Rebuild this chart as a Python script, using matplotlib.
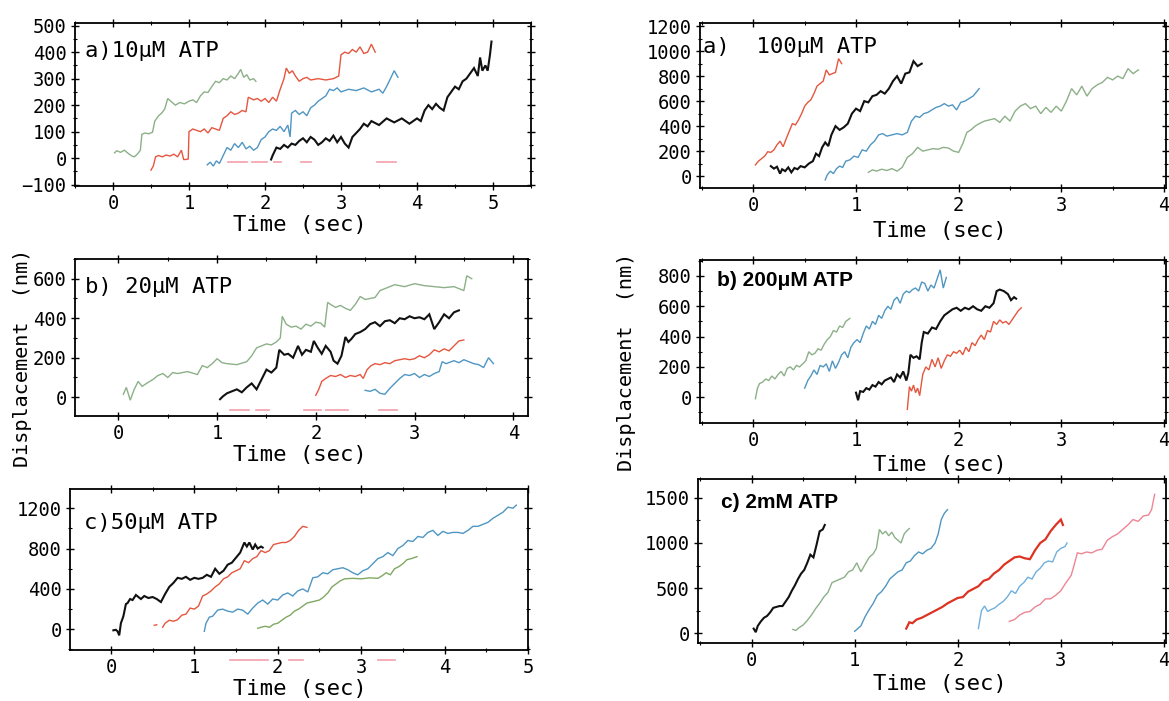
import numpy as np
import matplotlib
matplotlib.use("Agg")
import matplotlib.pyplot as plt
from matplotlib.ticker import AutoMinorLocator

# ---- data: (time s, displacement nm) ----
# a) 10 uM ATP
g10 = [(0.02,20),(0.05,28),(0.1,22),(0.15,30),(0.2,18),(0.25,8),(0.28,5),(0.32,15),(0.36,30),(0.38,90),
       (0.42,95),(0.47,92),(0.52,98),(0.55,140),(0.6,160),(0.64,170),(0.68,185),(0.72,225),(0.76,215),(0.82,200),
       (0.88,210),(0.94,205),(1.0,215),(1.05,220),(1.1,210),(1.15,235),(1.2,250),(1.25,248),(1.3,270),(1.35,290),
       (1.4,285),(1.45,300),(1.5,295),(1.55,310),(1.6,300),(1.65,320),(1.68,335),(1.72,305),(1.76,315),(1.8,295),
       (1.85,300),(1.88,290)]
r10 = [(0.5,-45),(0.53,-30),(0.56,5),(0.6,10),(0.65,5),(0.7,12),(0.75,8),(0.8,15),(0.85,5),(0.9,30),(0.93,-5),
       (0.96,-5),(0.99,-3),(1.0,100),(1.05,110),(1.1,105),(1.15,100),(1.2,110),(1.25,95),(1.3,115),(1.35,110),
       (1.4,105),(1.45,150),(1.5,160),(1.55,175),(1.6,165),(1.65,170),(1.7,180),(1.75,175),(1.78,230),(1.85,220),
       (1.9,225),(1.95,215),(2.0,225),(2.05,210),(2.1,230),(2.15,215),(2.2,260),(2.25,300),(2.28,340),(2.32,320),
       (2.36,330),(2.4,310),(2.45,290),(2.5,300),(2.55,305),(2.6,295),(2.7,300),(2.8,295),(2.9,300),(2.97,310),
       (3.0,390),(3.05,400),(3.1,395),(3.15,410),(3.2,400),(3.25,420),(3.3,395),(3.35,400),(3.4,430),(3.45,400)]
b10 = [(1.24,-25),(1.28,-15),(1.32,-30),(1.36,-10),(1.4,-20),(1.45,10),(1.5,40),(1.55,30),(1.6,55),(1.65,40),
       (1.7,60),(1.75,35),(1.8,45),(1.85,30),(1.9,40),(1.95,70),(2.0,80),(2.05,100),(2.1,110),(2.15,105),(2.2,120),
       (2.25,100),(2.3,125),(2.33,80),(2.35,170),(2.4,180),(2.45,165),(2.5,175),(2.55,160),(2.6,190),(2.65,200),
       (2.7,215),(2.75,225),(2.8,235),(2.85,260),(2.9,255),(2.95,265),(3.0,250),(3.1,260),(3.2,255),(3.3,265),
       (3.4,250),(3.5,260),(3.55,245),(3.6,270),(3.65,300),(3.7,330),(3.75,305)]
k10 = [(2.08,-5),(2.1,10),(2.15,40),(2.2,35),(2.25,50),(2.3,40),(2.35,55),(2.4,50),(2.45,65),(2.5,75),(2.55,60),
       (2.6,80),(2.65,70),(2.7,50),(2.75,60),(2.8,75),(2.85,65),(2.9,85),(2.95,60),(3.0,80),(3.05,55),(3.1,40),
       (3.15,80),(3.2,95),(3.25,110),(3.3,130),(3.35,120),(3.4,140),(3.5,125),(3.6,150),(3.7,135),(3.8,150),
       (3.85,140),(3.9,130),(4.0,150),(4.05,140),(4.1,180),(4.15,200),(4.2,185),(4.25,205),(4.3,190),(4.35,180),
       (4.4,230),(4.45,250),(4.5,270),(4.55,260),(4.6,290),(4.65,300),(4.7,320),(4.75,340),(4.8,310),(4.83,380),
       (4.86,330),(4.9,350),(4.93,330),(4.96,390),(4.98,440)]
pink10 = [(1.51,1.76),(1.83,2.03),(2.12,2.21),(2.48,2.6),(3.48,3.73)]

# b) 20 uM ATP
g20 = [(0.05,15),(0.08,50),(0.12,-15),(0.16,40),(0.2,80),(0.24,55),(0.3,75),(0.35,90),(0.4,110),(0.45,120),
       (0.5,100),(0.55,125),(0.6,120),(0.7,130),(0.8,115),(0.85,160),(0.9,150),(0.95,170),(1.0,195),(1.05,175),
       (1.1,170),(1.2,165),(1.3,180),(1.35,210),(1.4,250),(1.45,260),(1.5,270),(1.55,265),(1.6,280),(1.64,300),
       (1.66,410),(1.7,370),(1.75,355),(1.8,360),(1.85,345),(1.9,370),(1.95,360),(2.0,380),(2.05,375),(2.09,355),
       (2.12,480),(2.15,470),(2.2,455),(2.25,465),(2.3,450),(2.35,440),(2.4,470),(2.45,510),(2.5,495),(2.55,500),
       (2.6,505),(2.65,540),(2.7,550),(2.8,570),(2.9,560),(3.0,575),(3.1,565),(3.2,560),(3.3,555),(3.4,560),
       (3.45,550),(3.5,540),(3.53,615),(3.58,600)]
k20 = [(1.03,-10),(1.06,5),(1.1,20),(1.15,30),(1.2,40),(1.25,25),(1.3,50),(1.35,70),(1.4,40),(1.45,90),(1.5,140),
       (1.55,125),(1.6,150),(1.63,240),(1.68,215),(1.72,220),(1.77,200),(1.82,260),(1.86,215),(1.9,240),(1.95,230),
       (1.98,285),(2.02,250),(2.06,220),(2.1,260),(2.15,230),(2.18,185),(2.22,170),(2.26,210),(2.3,305),(2.33,280),
       (2.36,295),(2.4,320),(2.45,330),(2.5,345),(2.55,370),(2.6,380),(2.65,360),(2.7,385),(2.75,390),(2.8,375),
       (2.85,400),(2.9,395),(2.95,410),(3.0,400),(3.05,405),(3.1,395),(3.15,420),(3.2,345),(3.25,380),(3.3,420),
       (3.35,400),(3.4,430),(3.45,440)]
r20 = [(2.0,10),(2.03,40),(2.06,80),(2.1,95),(2.15,110),(2.2,105),(2.25,115),(2.3,100),(2.35,110),(2.4,105),
       (2.45,115),(2.48,95),(2.52,140),(2.56,160),(2.6,170),(2.65,165),(2.7,175),(2.75,170),(2.8,185),(2.85,190),
       (2.9,195),(2.95,190),(3.0,195),(3.05,210),(3.1,200),(3.15,215),(3.2,240),(3.25,230),(3.3,245),(3.35,235),
       (3.4,260),(3.45,285),(3.5,290)]
b20 = [(2.5,35),(2.55,30),(2.6,40),(2.65,20),(2.7,15),(2.75,45),(2.8,70),(2.85,95),(2.9,115),(2.95,110),(3.0,120),
       (3.05,100),(3.1,115),(3.15,105),(3.2,120),(3.25,130),(3.28,180),(3.32,170),(3.4,185),(3.45,175),(3.5,190),
       (3.55,180),(3.6,170),(3.65,165),(3.7,150),(3.75,200),(3.8,170)]
pink20 = [(1.13,1.32),(1.39,1.53),(1.88,2.05),(2.1,2.33),(2.64,2.82)]

# c) 50 uM ATP
k50 = [(0.03,-10),(0.06,-5),(0.08,-20),(0.1,-60),(0.12,60),(0.15,130),(0.18,250),(0.2,260),(0.23,300),(0.26,290),
       (0.3,340),(0.33,320),(0.36,300),(0.4,330),(0.45,310),(0.5,320),(0.55,300),(0.6,270),(0.65,350),(0.7,420),
       (0.75,460),(0.8,510),(0.85,500),(0.9,520),(0.95,490),(1.0,510),(1.05,500),(1.1,510),(1.15,540),(1.2,520),
       (1.25,600),(1.3,550),(1.35,580),(1.4,640),(1.45,660),(1.5,710),(1.55,760),(1.6,860),(1.63,820),(1.66,860),
       (1.7,790),(1.73,840),(1.76,800),(1.8,820),(1.82,810)]
r50_dot = [(0.52,40),(0.55,45)]
r50 = [(0.62,20),(0.65,60),(0.7,90),(0.75,80),(0.8,95),(0.85,140),(0.9,150),(0.95,210),(1.0,200),(1.05,230),
       (1.1,330),(1.15,350),(1.2,380),(1.25,420),(1.3,450),(1.35,500),(1.4,520),(1.45,560),(1.5,580),(1.55,600),
       (1.6,680),(1.65,660),(1.7,700),(1.75,720),(1.8,780),(1.85,760),(1.9,780),(1.95,840),(2.0,850),(2.05,860),
       (2.1,860),(2.15,880),(2.2,920),(2.25,980),(2.3,1020),(2.35,1010)]
b50 = [(1.12,-20),(1.14,60),(1.18,120),(1.22,130),(1.28,190),(1.34,200),(1.4,180),(1.46,170),(1.52,200),(1.58,190),
       (1.64,150),(1.7,210),(1.76,260),(1.82,290),(1.88,250),(1.94,300),(2.0,290),(2.06,340),(2.12,360),(2.18,330),
       (2.24,380),(2.3,400),(2.36,370),(2.42,510),(2.48,520),(2.54,560),(2.6,550),(2.66,590),(2.72,600),(2.78,610),
       (2.84,590),(2.9,560),(2.96,540),(3.02,580),(3.08,600),(3.14,650),(3.2,700),(3.26,720),(3.32,760),(3.38,730),
       (3.44,800),(3.5,830),(3.56,880),(3.62,870),(3.68,920),(3.74,910),(3.8,960),(3.86,980),(3.92,930),(3.98,970),
       (4.04,950),(4.1,960),(4.16,960),(4.22,950),(4.28,980),(4.34,1020),(4.4,1020),(4.46,1040),(4.52,1060),
       (4.58,1100),(4.64,1130),(4.7,1160),(4.76,1210),(4.82,1200),(4.86,1230)]
g50 = [(1.76,10),(1.8,20),(1.85,30),(1.9,20),(1.95,50),(2.0,60),(2.05,90),(2.1,120),(2.15,140),(2.2,180),
       (2.25,200),(2.3,230),(2.35,260),(2.4,270),(2.45,280),(2.5,290),(2.55,320),(2.6,360),(2.65,420),(2.7,450),
       (2.75,480),(2.8,500),(2.9,505),(3.0,500),(3.1,510),(3.2,505),(3.25,530),(3.3,560),(3.35,540),(3.4,600),
       (3.45,620),(3.5,650),(3.55,690),(3.6,700),(3.67,720)]
pink50 = [(1.43,1.88),(2.13,2.3),(3.2,3.4)]

# a) 100 uM ATP
r100 = [(0.02,90),(0.05,120),(0.08,140),(0.11,160),(0.14,195),(0.17,190),(0.2,210),(0.23,250),(0.26,280),(0.29,235),
        (0.32,300),(0.35,360),(0.38,420),(0.41,410),(0.44,450),(0.47,500),(0.5,560),(0.53,590),(0.56,610),(0.59,660),
        (0.62,720),(0.65,740),(0.68,760),(0.71,850),(0.74,810),(0.77,820),(0.8,830),(0.83,940),(0.86,900)]
k100 = [(0.17,80),(0.2,60),(0.23,75),(0.26,20),(0.28,55),(0.31,40),(0.34,70),(0.37,30),(0.4,65),(0.43,55),
        (0.46,80),(0.5,70),(0.54,100),(0.58,120),(0.61,180),(0.64,160),(0.67,230),(0.7,270),(0.73,240),(0.76,330),
        (0.8,400),(0.84,370),(0.88,390),(0.92,420),(0.96,500),(1.0,540),(1.04,520),(1.08,600),(1.12,590),(1.16,640),
        (1.2,650),(1.24,680),(1.28,660),(1.32,700),(1.36,760),(1.4,800),(1.44,740),(1.48,820),(1.52,830),(1.56,920),
        (1.6,880),(1.64,900)]
b100 = [(0.7,-30),(0.72,10),(0.75,40),(0.78,20),(0.81,60),(0.84,80),(0.87,70),(0.9,120),(0.94,130),(0.98,160),
        (1.02,150),(1.06,210),(1.1,200),(1.14,250),(1.18,280),(1.22,330),(1.26,340),(1.3,320),(1.35,330),(1.4,340),
        (1.45,330),(1.5,350),(1.54,440),(1.58,480),(1.62,470),(1.66,500),(1.7,510),(1.74,530),(1.78,550),(1.82,560),
        (1.86,580),(1.9,560),(1.94,570),(1.98,530),(2.02,590),(2.06,600),(2.1,620),(2.14,640),(2.18,680),(2.2,700)]
g100 = [(1.12,30),(1.16,50),(1.2,40),(1.25,55),(1.3,45),(1.35,60),(1.4,40),(1.45,70),(1.5,150),(1.55,180),
        (1.6,230),(1.65,200),(1.7,210),(1.75,220),(1.8,215),(1.85,230),(1.9,225),(1.95,200),(2.0,190),(2.04,260),
        (2.08,350),(2.12,370),(2.16,400),(2.2,420),(2.25,440),(2.3,450),(2.35,460),(2.4,430),(2.45,480),(2.5,440),
        (2.55,520),(2.6,560),(2.65,580),(2.7,540),(2.75,560),(2.8,500),(2.85,550),(2.9,510),(2.95,560),(3.0,520),
        (3.05,600),(3.1,700),(3.15,650),(3.2,720),(3.25,640),(3.3,700),(3.35,730),(3.4,750),(3.45,790),(3.5,770),
        (3.55,800),(3.6,780),(3.65,860),(3.7,820),(3.75,850)]

# b) 200 uM ATP
g200 = [(0.02,-10),(0.04,60),(0.06,90),(0.09,100),(0.12,120),(0.15,110),(0.18,140),(0.21,120),(0.24,150),(0.27,170),
        (0.3,140),(0.33,190),(0.36,200),(0.39,180),(0.42,210),(0.45,200),(0.48,220),(0.51,240),(0.54,300),(0.57,280),
        (0.6,290),(0.63,320),(0.66,310),(0.69,350),(0.72,380),(0.75,400),(0.78,440),(0.81,430),(0.84,470),(0.87,460),
        (0.9,500),(0.94,520)]
b200 = [(0.5,60),(0.53,110),(0.56,140),(0.59,180),(0.62,150),(0.65,210),(0.68,200),(0.71,220),(0.74,170),(0.77,240),
        (0.8,190),(0.83,230),(0.86,280),(0.89,300),(0.92,260),(0.95,330),(0.98,360),(1.01,380),(1.04,360),(1.07,420),
        (1.1,470),(1.13,450),(1.16,500),(1.19,480),(1.22,540),(1.25,520),(1.28,570),(1.31,600),(1.34,580),(1.37,640),
        (1.4,660),(1.43,620),(1.46,680),(1.49,700),(1.52,690),(1.55,710),(1.58,720),(1.61,700),(1.64,760),(1.67,750),
        (1.7,700),(1.73,740),(1.76,720),(1.79,780),(1.82,840),(1.85,720),(1.88,790)]
k200 = [(1.0,30),(1.02,-20),(1.04,40),(1.07,35),(1.1,60),(1.13,50),(1.16,80),(1.19,70),(1.22,100),(1.25,85),
        (1.28,110),(1.31,120),(1.34,130),(1.37,100),(1.4,150),(1.43,130),(1.46,170),(1.49,110),(1.51,160),(1.53,280),
        (1.56,260),(1.59,270),(1.62,250),(1.64,360),(1.66,430),(1.7,420),(1.74,460),(1.78,450),(1.82,500),(1.86,540),
        (1.9,560),(1.94,580),(1.98,590),(2.02,570),(2.06,590),(2.1,580),(2.14,600),(2.18,580),(2.22,570),(2.26,600),
        (2.3,590),(2.34,620),(2.37,700),(2.4,710),(2.44,700),(2.48,680),(2.51,640),(2.54,660),(2.56,650)]
r200 = [(1.5,-80),(1.52,70),(1.54,40),(1.56,80),(1.58,30),(1.6,60),(1.62,10),(1.65,150),(1.68,200),(1.71,180),
        (1.74,250),(1.77,200),(1.8,260),(1.83,190),(1.86,240),(1.89,280),(1.92,270),(1.95,300),(1.98,290),(2.01,310),
        (2.04,280),(2.07,330),(2.1,300),(2.13,360),(2.16,340),(2.19,380),(2.22,410),(2.25,380),(2.28,440),(2.31,430),
        (2.34,500),(2.37,480),(2.4,510),(2.43,490),(2.46,500),(2.49,480),(2.52,510),(2.55,540),(2.58,570),(2.61,590)]

# c) 2 mM ATP
k2m = [(0.02,50),(0.04,10),(0.06,80),(0.09,130),(0.12,170),(0.15,190),(0.18,230),(0.21,280),(0.24,290),(0.27,300),
       (0.3,300),(0.33,350),(0.36,400),(0.39,470),(0.42,530),(0.45,600),(0.48,660),(0.51,700),(0.54,780),(0.57,870),
       (0.6,840),(0.63,980),(0.66,1130),(0.69,1150),(0.71,1200)]
g2m = [(0.4,40),(0.43,30),(0.46,60),(0.5,90),(0.54,140),(0.58,200),(0.62,270),(0.66,330),(0.7,400),(0.74,450),
       (0.78,560),(0.82,580),(0.86,600),(0.9,620),(0.94,680),(0.98,700),(1.02,780),(1.06,680),(1.1,760),(1.14,840),
       (1.18,880),(1.21,940),(1.24,1150),(1.27,1100),(1.3,1130),(1.33,1080),(1.36,1120),(1.39,1060),(1.42,1030),
       (1.45,1000),(1.48,1100),(1.51,1140),(1.53,1160)]
b2m = [(1.0,20),(1.03,50),(1.06,80),(1.1,180),(1.14,260),(1.18,330),(1.22,420),(1.26,460),(1.3,520),(1.34,600),
       (1.38,640),(1.42,680),(1.46,700),(1.5,780),(1.54,800),(1.58,860),(1.62,900),(1.66,880),(1.7,920),(1.74,940),
       (1.78,1000),(1.81,1100),(1.84,1260),(1.87,1330),(1.9,1370)]
r2m = [(1.5,50),(1.53,120),(1.56,110),(1.6,150),(1.65,170),(1.7,200),(1.75,230),(1.8,260),(1.85,290),(1.9,330),
       (1.95,360),(2.0,390),(2.05,400),(2.1,460),(2.15,490),(2.2,520),(2.25,580),(2.3,600),(2.35,660),(2.4,700),
       (2.45,760),(2.5,800),(2.55,840),(2.6,850),(2.65,830),(2.7,820),(2.75,920),(2.8,1000),(2.85,1040),(2.9,1130),
       (2.95,1200),(3.0,1260),(3.02,1200)]
lb2m = [(2.2,50),(2.23,250),(2.26,300),(2.29,240),(2.32,260),(2.36,280),(2.4,320),(2.44,350),(2.48,400),(2.52,470),
        (2.56,440),(2.6,520),(2.64,560),(2.68,620),(2.72,600),(2.76,680),(2.8,720),(2.84,780),(2.88,800),(2.92,790),
        (2.96,900),(3.0,940),(3.04,960),(3.06,1000)]
p2m = [(2.5,130),(2.55,150),(2.6,200),(2.65,230),(2.7,240),(2.75,290),(2.8,320),(2.85,380),(2.9,380),(2.95,420),
       (3.0,470),(3.05,560),(3.1,640),(3.13,760),(3.16,890),(3.2,880),(3.25,900),(3.3,890),(3.35,920),(3.4,930),
       (3.45,1030),(3.5,1070),(3.55,1100),(3.6,1150),(3.65,1200),(3.7,1260),(3.75,1240),(3.8,1300),(3.85,1310),
       (3.88,1370),(3.91,1540)]

GREEN = '#8cb088'
RED = '#e5563f'
BLUE = '#4f96c2'
BLACK = '#111111'
PINK = '#f2a0ac'

plt.rcParams['font.family'] = ['DejaVu Sans Mono']
plt.rcParams['axes.linewidth'] = 1.3

fig = plt.figure(figsize=(11.69, 7.01), dpi=100)
W, H = 1169, 701


def make_axes(l, r, t, b):
    # pixel box -> figure fraction
    return fig.add_axes([l / W, 1 - b / H, (r - l) / W, (b - t) / H])


def trace(ax, pts, color, lw=1.0):
    a = np.array(pts, dtype=float)
    ax.plot(a[:, 0], a[:, 1], color=color, lw=lw, solid_joinstyle='miter')


def style(ax, xlim, ylim, xticks, yticks):
    ax.set_xlim(*xlim)
    ax.set_ylim(*ylim)
    ax.set_xticks(xticks)
    ax.set_yticks(yticks)
    ax.xaxis.set_minor_locator(AutoMinorLocator(2))
    ax.yaxis.set_minor_locator(AutoMinorLocator(2))
    ax.tick_params(which='major', direction='inout', top=True, right=True, length=6, width=1,
                   labelsize=13.5, pad=3)
    ax.tick_params(which='minor', direction='inout', top=True, right=True, length=3, width=0.8)


axA = make_axes(75, 531, 23, 186)
trace(axA, g10, GREEN)
trace(axA, r10, RED)
trace(axA, b10, BLUE)
trace(axA, k10, BLACK, 1.5)
for s, e in pink10:
    axA.plot([s, e], [-15, -15], color=PINK, lw=1.2)
style(axA, (-0.5, 5.5), (-105, 510), range(0, 6), range(-100, 501, 100))
axA.text(0.022, 0.83, 'a)10μM ATP', transform=axA.transAxes, fontsize=16, va='center')

axB = make_axes(75, 528, 259, 416)
trace(axB, g20, GREEN)
trace(axB, k20, BLACK, 1.5)
trace(axB, r20, RED)
trace(axB, b20, BLUE)
for s, e in pink20:
    axB.plot([s, e], [-65, -65], color=PINK, lw=1.2)
style(axB, (-0.44, 4.15), (-95, 700), range(0, 5), range(0, 601, 200))
axB.text(0.022, 0.82, 'b) 20μM ATP', transform=axB.transAxes, fontsize=16, va='center')

axC = make_axes(70, 528, 489, 650)
trace(axC, k50, BLACK, 1.5)
trace(axC, r50_dot, RED)
trace(axC, r50, RED)
trace(axC, b50, BLUE)
trace(axC, g50, '#7fa860')
for s, e in pink50:
    axC.plot([s, e], [-300, -300], color=PINK, lw=1.2, clip_on=False)
style(axC, (-0.49, 5.0), (-205, 1390), range(0, 6), range(0, 1201, 400))
axC.text(0.03, 0.79, 'c)50μM ATP', transform=axC.transAxes, fontsize=16, va='center')

axD = make_axes(700, 1166, 23, 188)
trace(axD, r100, RED)
trace(axD, k100, BLACK, 1.5)
trace(axD, b100, BLUE)
trace(axD, g100, GREEN)
style(axD, (-0.52, 4.02), (-95, 1225), range(0, 5), range(0, 1201, 200))
axD.text(0.006, 0.855, 'a)  100μM ATP', transform=axD.transAxes, fontsize=16, va='center')

axE = make_axes(700, 1166, 260, 423)
trace(axE, g200, GREEN)
trace(axE, b200, BLUE)
trace(axE, k200, BLACK, 1.5)
trace(axE, r200, RED)
style(axE, (-0.52, 4.02), (-170, 905), range(0, 5), range(0, 801, 200))
axE.text(0.036, 0.877, 'b) 200μM ATP', transform=axE.transAxes, fontsize=15,
         fontweight='bold', family=['Liberation Sans', 'DejaVu Sans'], va='center')

axF = make_axes(698, 1166, 479, 643)
trace(axF, k2m, BLACK, 1.5)
trace(axF, g2m, GREEN)
trace(axF, b2m, BLUE)
trace(axF, r2m, '#dd3322', 1.6)
trace(axF, lb2m, '#6fb0dc')
trace(axF, p2m, '#ee8594')
style(axF, (-0.52, 4.02), (-110, 1710), range(0, 5), range(0, 1501, 500))
axF.text(0.05, 0.854, 'c) 2mM ATP', transform=axF.transAxes, fontsize=15,
         fontweight='bold', family=['Liberation Sans', 'DejaVu Sans'], va='center')

# axis titles
for x, y in [(300, 225), (300, 455), (300, 689), (940, 231), (940, 465), (940, 684)]:
    fig.text(x / W, 1 - y / H, 'Time (sec)', fontsize=16, ha='center', va='center')
fig.text(23 / W, 1 - 358 / H, 'Displacement  (nm)', fontsize=14.5, rotation=90, ha='center', va='center')
fig.text(627 / W, 1 - 362 / H, 'Displacement  (nm)', fontsize=14.5, rotation=90, ha='center', va='center')

fig.savefig('out.png', dpi=100)
